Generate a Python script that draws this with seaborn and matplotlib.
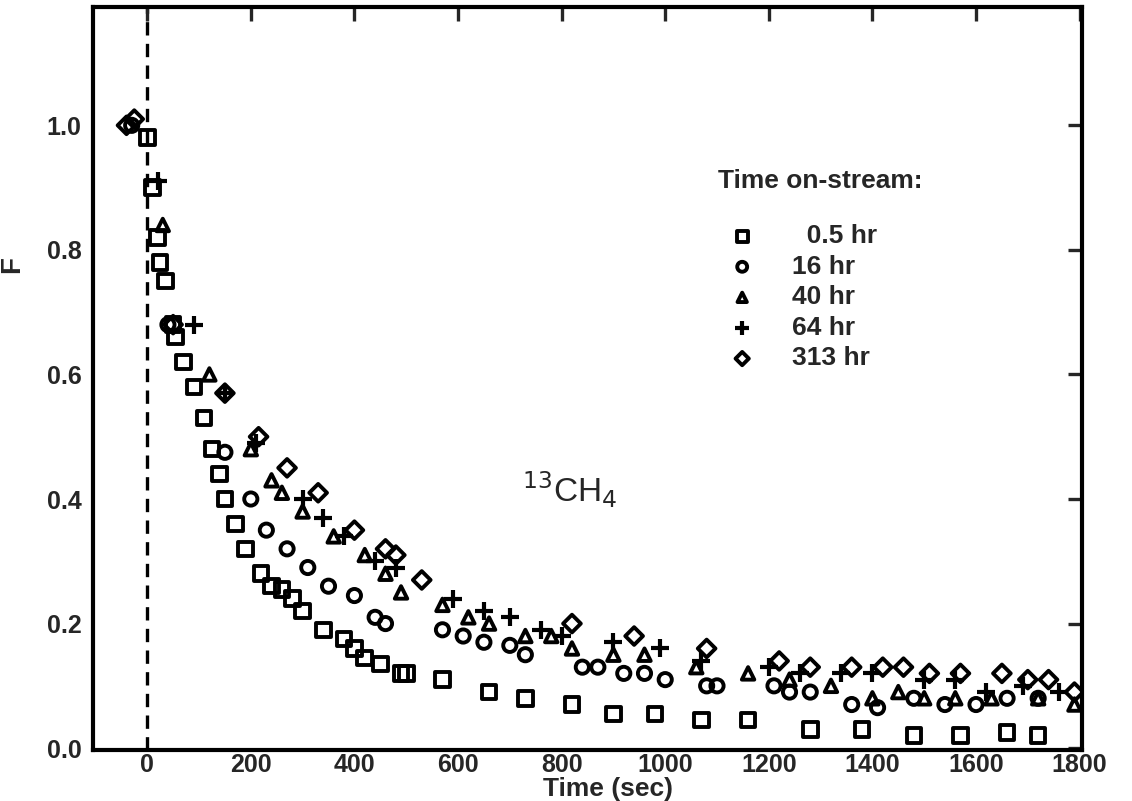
import matplotlib
matplotlib.use("Agg")
import matplotlib.pyplot as plt
import seaborn as sns
import pandas as pd

sns.set_theme(style="white")
plt.rcParams['font.family'] = ['Liberation Sans', 'DejaVu Sans']

# 0.5 hr (squares)
t_05 = [0, 10, 20, 25, 35, 50, 55, 70, 90, 110, 125, 140, 150, 170, 190, 220, 240,
        260, 280, 300, 340, 380, 400, 420, 450, 490, 500, 570, 660, 730, 820, 900,
        980, 1070, 1160, 1280, 1380, 1480, 1570, 1660, 1720]
F_05 = [0.98, 0.90, 0.82, 0.78, 0.75, 0.68, 0.66, 0.62, 0.58, 0.53, 0.48, 0.44, 0.40,
        0.36, 0.32, 0.28, 0.26, 0.255, 0.24, 0.22, 0.19, 0.175, 0.16, 0.145, 0.135,
        0.12, 0.12, 0.11, 0.09, 0.08, 0.07, 0.055, 0.055, 0.045, 0.045, 0.03, 0.03,
        0.02, 0.02, 0.025, 0.02]
# 16 hr (circles)
t_16 = [-30, 40, 150, 200, 230, 270, 310, 350, 400, 440, 460, 570, 610, 650, 700,
        730, 840, 870, 920, 960, 1000, 1080, 1100, 1210, 1240, 1280, 1360, 1410,
        1480, 1540, 1600, 1660, 1720]
F_16 = [1.0, 0.68, 0.475, 0.40, 0.35, 0.32, 0.29, 0.26, 0.245, 0.21, 0.20, 0.19, 0.18,
        0.17, 0.165, 0.15, 0.13, 0.13, 0.12, 0.12, 0.11, 0.10, 0.10, 0.10, 0.09,
        0.09, 0.07, 0.065, 0.08, 0.07, 0.07, 0.08, 0.08]
# 40 hr (triangles)
t_40 = [30, 120, 200, 240, 260, 300, 360, 420, 460, 490, 570, 620, 660, 730, 780,
        820, 900, 960, 1060, 1160, 1240, 1320, 1400, 1450, 1500, 1560, 1630, 1720, 1790]
F_40 = [0.84, 0.60, 0.48, 0.43, 0.41, 0.38, 0.34, 0.31, 0.28, 0.25, 0.23, 0.21, 0.20,
        0.18, 0.18, 0.16, 0.15, 0.15, 0.13, 0.12, 0.11, 0.10, 0.08, 0.09, 0.08, 0.08,
        0.08, 0.08, 0.07]
# 64 hr (plus)
t_64 = [20, 90, 150, 210, 300, 340, 380, 440, 480, 590, 650, 700, 760, 800, 900, 990,
        1070, 1200, 1260, 1340, 1400, 1500, 1560, 1620, 1690, 1760]
F_64 = [0.91, 0.68, 0.57, 0.49, 0.40, 0.37, 0.34, 0.30, 0.29, 0.24, 0.22, 0.21, 0.19,
        0.18, 0.17, 0.16, 0.14, 0.13, 0.12, 0.12, 0.12, 0.11, 0.11, 0.09, 0.10, 0.09]
# 313 hr (diamonds)
t_313 = [-40, -25, 50, 150, 215, 270, 330, 400, 460, 480, 530, 820, 940, 1080, 1220,
         1280, 1360, 1420, 1460, 1510, 1570, 1650, 1700, 1740, 1790]
F_313 = [1.00, 1.01, 0.68, 0.57, 0.50, 0.45, 0.41, 0.35, 0.32, 0.31, 0.27, 0.20, 0.18,
         0.16, 0.14, 0.13, 0.13, 0.13, 0.13, 0.12, 0.12, 0.12, 0.11, 0.11, 0.09]

series_labels = ["  0.5 hr", "16 hr", "40 hr", "64 hr", "313 hr"]
x_ticks = [0, 200, 400, 600, 800, 1000, 1200, 1400, 1600, 1800]
y_ticks = [0.0, 0.2, 0.4, 0.6, 0.8, 1.0]

frames = []
for lab, t, f in zip(series_labels, [t_05, t_16, t_40, t_64, t_313],
                     [F_05, F_16, F_40, F_64, F_313]):
    frames.append(pd.DataFrame({"t": t, "F": f, "series": lab}))
df = pd.concat(frames, ignore_index=True)

fig = plt.figure(figsize=(11.32, 8.01), dpi=100)
ax = fig.add_axes([0.082, 1 - 750 / 801, 0.874, (750 - 7) / 801])

markers = {"  0.5 hr": "s", "16 hr": "o", "40 hr": "^", "64 hr": "+", "313 hr": "D"}
sizes = {"  0.5 hr": 10.5, "16 hr": 9.5, "40 hr": 9, "64 hr": 13, "313 hr": 9}
for lab in series_labels:
    sub = df[df["series"] == lab]
    if lab == "64 hr":
        sns.scatterplot(data=sub, x="t", y="F", marker="+", s=sizes[lab] ** 2,
                        color="black", linewidth=3.0, ax=ax, label=lab, legend=False)
    else:
        sns.scatterplot(data=sub, x="t", y="F", marker=markers[lab], s=sizes[lab] ** 2,
                        facecolor="none", edgecolor="black", linewidth=2.8, ax=ax,
                        label=lab, legend=False)

ax.axvline(0, color="black", linestyle=(0, (4, 2.5)), linewidth=2.4, zorder=0)

ax.set_xlim(-105, 1805)
ax.set_ylim(-0.003, 1.19)
ax.set_xticks(x_ticks)
ax.set_yticks(y_ticks)
ax.set_yticklabels([f"{v:.1f}" for v in y_ticks])
ax.tick_params(direction="in", length=10, width=2.4, top=True, right=True,
               labelsize=18)
ax.tick_params(axis="x", pad=2)
ax.tick_params(axis="y", pad=8)
for lbl in ax.get_xticklabels() + ax.get_yticklabels():
    lbl.set_fontweight("bold")
for sp in ax.spines.values():
    sp.set_linewidth(3)
    sp.set_color("black")

ax.set_xlabel("")
ax.set_ylabel("")
fig.text(0.5375, 1 - 789 / 801, "Time (sec)", fontsize=19, fontweight="bold",
         ha="center", va="center")
fig.text(12 / 1132, 1 - 265 / 801, "F", fontsize=20, fontweight="bold",
         rotation=90, ha="center", va="center")

ax.text(0.482, 0.35, r"$^{13}$CH$_4$", transform=ax.transAxes, fontsize=24,
        ha="center", va="center")

handles, labels = ax.get_legend_handles_labels()
fig.text(820 / 1132, 1 - 181 / 801, "Time on-stream:", fontsize=19,
         fontweight="bold", ha="center", va="center")
leg = ax.legend(handles, labels, loc="upper left",
                bbox_to_anchor=(0.619, 0.722), frameon=False, fontsize=19,
                handletextpad=0.9, labelspacing=0.25, markerscale=0.75,
                borderaxespad=0)
for txt in leg.get_texts():
    txt.set_fontweight("bold")

fig.savefig("out.png", dpi=100)
